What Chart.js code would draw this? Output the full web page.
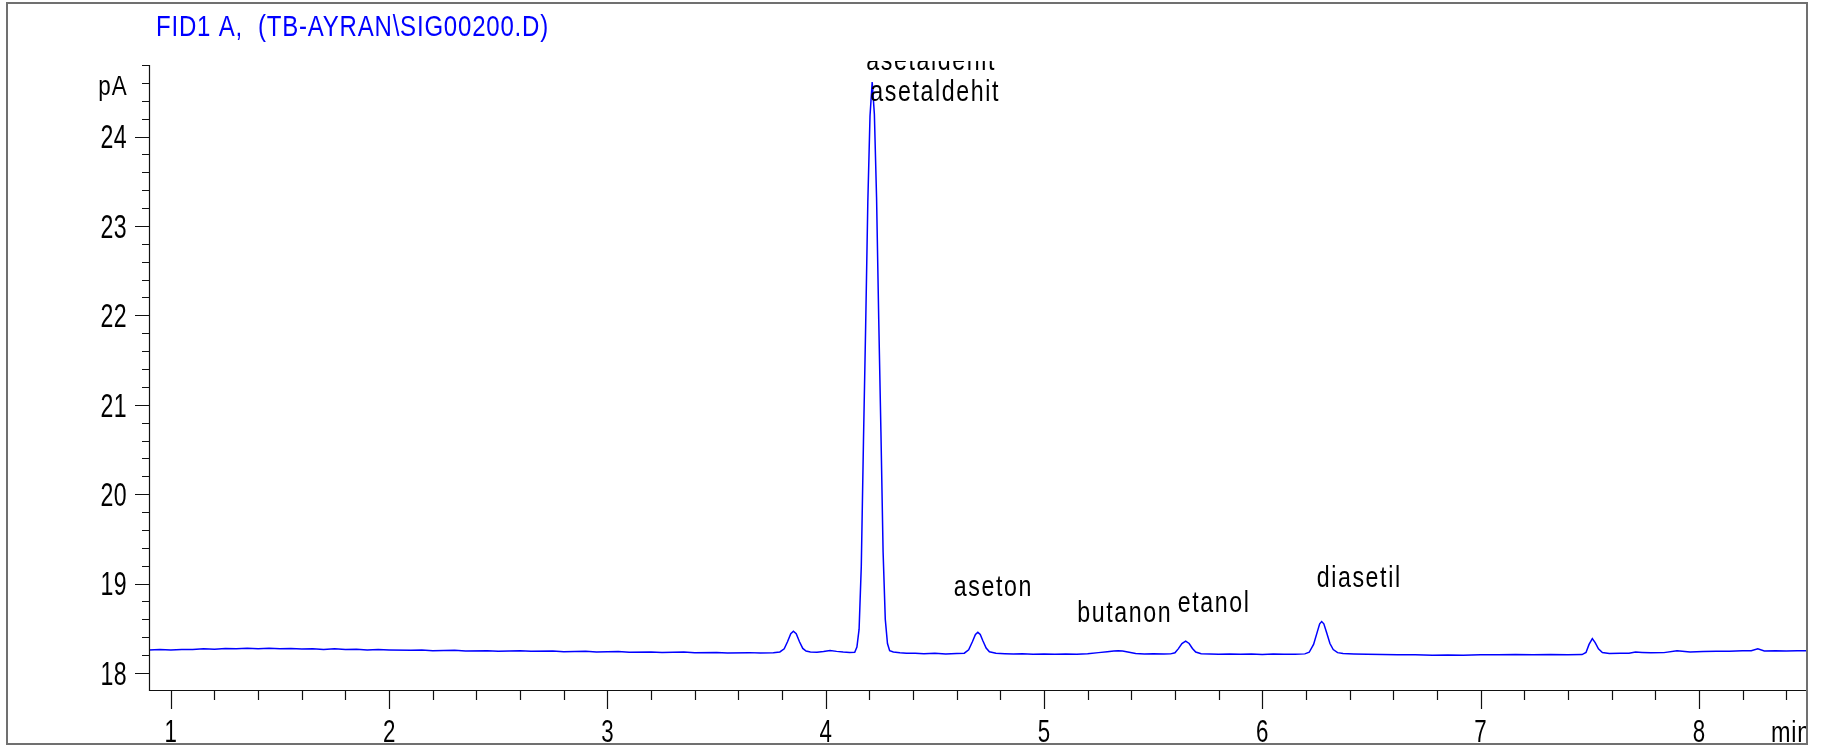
<!DOCTYPE html>
<html>
<head>
<meta charset="utf-8">
<title>FID1 A chromatogram</title>
<script src="https://cdn.jsdelivr.net/npm/chart.js@4.4.1/dist/chart.umd.min.js"></script>
<style>
  html, body { margin: 0; padding: 0; background: #fff; }
  #wrap { width: 1847px; height: 749px; }
</style>
</head>
<body>
<div id="wrap"><canvas id="chromChart" width="1847" height="749"></canvas></div>
<script>
// retention time (min) and FID signal (pA)
const retentionTimes = [
    0.90, 0.95, 1.00, 1.05, 1.10, 1.15, 1.20, 1.25, 1.30, 1.35,
    1.40, 1.45, 1.50, 1.55, 1.60, 1.65, 1.70, 1.75, 1.80, 1.85,
    1.90, 1.95, 2.00, 2.10, 2.15, 2.20, 2.30, 2.35, 2.45, 2.50,
    2.60, 2.65, 2.75, 2.80, 2.90, 2.95, 3.05, 3.10, 3.20, 3.25,
    3.35, 3.40, 3.50, 3.55, 3.65, 3.70, 3.76,
    3.79, 3.81, 3.825, 3.84, 3.852, 3.865, 3.88, 3.895, 3.91, 3.93,
    3.96, 3.99, 4.02, 4.05, 4.08, 4.11,
    4.133, 4.143, 4.153, 4.163, 4.173, 4.183, 4.193, 4.203, 4.213, 4.223,
    4.233, 4.243, 4.253, 4.263, 4.273, 4.283, 4.293, 4.31, 4.34, 4.37,
    4.41, 4.45, 4.50, 4.55, 4.60, 4.635,
    4.655, 4.672, 4.686, 4.697, 4.708, 4.72, 4.735, 4.75, 4.78, 4.82,
    4.86, 4.90, 4.95, 5.00, 5.05, 5.10, 5.15, 5.20,
    5.25, 5.29, 5.32, 5.34, 5.36, 5.39, 5.42, 5.46, 5.50, 5.55, 5.58,
    5.60, 5.615, 5.632, 5.649, 5.665, 5.68, 5.695, 5.72, 5.76, 5.80,
    5.85, 5.90, 5.95, 6.00, 6.05, 6.10, 6.15, 6.195,
    6.215, 6.235, 6.252, 6.263, 6.272, 6.282, 6.295, 6.31, 6.325, 6.345,
    6.37, 6.42, 6.48, 6.55, 6.62, 6.70, 6.78, 6.85, 6.92, 7.00,
    7.08, 7.16, 7.24, 7.32, 7.40, 7.465,
    7.483, 7.497, 7.512, 7.525, 7.54, 7.558, 7.59, 7.64, 7.68, 7.71,
    7.74, 7.78, 7.84, 7.90, 7.96, 8.02, 8.08, 8.14, 8.20, 8.24,
    8.27, 8.30, 8.35, 8.40, 8.45, 8.50
];

const signalPA = [
    18.258, 18.262, 18.256, 18.264, 18.262, 18.270, 18.266, 18.274, 18.270, 18.276,
    18.272, 18.278, 18.270, 18.274, 18.268, 18.272, 18.264, 18.270, 18.262, 18.266,
    18.256, 18.262, 18.258, 18.254, 18.258, 18.250, 18.254, 18.246, 18.250, 18.244,
    18.248, 18.242, 18.246, 18.238, 18.242, 18.236, 18.240, 18.232, 18.236, 18.230,
    18.234, 18.226, 18.230, 18.224, 18.228, 18.224, 18.226,
    18.236, 18.270, 18.350, 18.440, 18.468, 18.440, 18.350, 18.275, 18.245, 18.236,
    18.232, 18.240, 18.252, 18.242, 18.234, 18.230,
    18.232, 18.290, 18.490, 19.190, 20.590, 21.870, 23.270, 24.230, 24.610, 24.250,
    23.320, 21.950, 20.700, 19.350, 18.600, 18.330, 18.250, 18.235, 18.226, 18.222,
    18.220, 18.216, 18.220, 18.214, 18.218, 18.222,
    18.260, 18.350, 18.430, 18.455, 18.430, 18.360, 18.280, 18.238, 18.222, 18.216,
    18.212, 18.216, 18.210, 18.214, 18.210, 18.214, 18.210, 18.216,
    18.228, 18.238, 18.246, 18.250, 18.246, 18.232, 18.218, 18.212, 18.216, 18.212, 18.214,
    18.226, 18.270, 18.330, 18.357, 18.330, 18.275, 18.235, 18.216, 18.212, 18.210,
    18.214, 18.210, 18.212, 18.208, 18.212, 18.209, 18.211, 18.214,
    18.232, 18.320, 18.460, 18.550, 18.575, 18.550, 18.450, 18.330, 18.262, 18.228,
    18.218, 18.214, 18.210, 18.206, 18.204, 18.203, 18.200, 18.202, 18.200, 18.205,
    18.204, 18.207, 18.204, 18.207, 18.205, 18.206,
    18.230, 18.320, 18.385, 18.340, 18.270, 18.230, 18.218, 18.220, 18.222, 18.234,
    18.230, 18.226, 18.228, 18.248, 18.236, 18.240, 18.244, 18.242, 18.248, 18.250,
    18.270, 18.246, 18.250, 18.246, 18.250, 18.248
];

// peak names written by the integrator, with the apex of each peak
const peakNames = ["asetaldehit", "asetaldehit", "aseton", "butanon", "etanol", "diasetil"];
const peakTimes = [4.213, 4.213, 4.697, 5.34, 5.649, 6.272];
const peakHeights = [24.61, 24.61, 18.455, 18.25, 18.357, 18.575];

const xTickLabels = [1, 2, 3, 4, 5, 6, 7, 8];
const yTickLabels = [18, 19, 20, 21, 22, 23, 24];

const FONT = "'Liberation Sans', Arial, sans-serif";

// Arial squeezed sideways, to look like the narrow plotter font
function narrowText(ctx, text, x, y, size, squeeze, spacing, align) {
    ctx.save();
    ctx.font = size + "px " + FONT;
    ctx.letterSpacing = spacing + "px";
    ctx.textAlign = align || "left";
    ctx.textBaseline = "alphabetic";
    ctx.scale(squeeze, 1);
    ctx.fillText(text, x / squeeze, y);
    ctx.restore();
}

// axis frame, tick marks and the text around the plot
const chromDecor = {
    id: "chromDecor",
    afterDatasetsDraw(chart) {
        const { ctx, chartArea: a, scales } = chart;
        const x = scales.x, y = scales.y;

        // peak labels, clipped just above the plot like the printout
        const offsets = [[-6, -12], [-2, 19], [-24, -36], [-41, -29], [-8, -29], [-5, -35]];
        ctx.save();
        ctx.fillStyle = "#000";
        ctx.beginPath();
        ctx.rect(0, 61, chart.width, chart.height);
        ctx.clip();
        peakNames.forEach(function (name, i) {
            const px = x.getPixelForValue(peakTimes[i]) + offsets[i][0];
            const py = y.getPixelForValue(peakHeights[i]) + offsets[i][1];
            narrowText(ctx, name, px, py, 29, 0.8, 2, "left");
        });
        ctx.restore();

        ctx.save();
        ctx.strokeStyle = "#111";
        ctx.lineWidth = 1.2;
        ctx.beginPath();
        ctx.moveTo(a.left + 0.5, a.top);
        ctx.lineTo(a.left + 0.5, a.bottom + 0.5);
        ctx.lineTo(a.right, a.bottom + 0.5);

        // y ticks every 0.2 pA, long ones on whole numbers
        for (let i = 0; i <= 34; i++) {
            const v = 18 + i * 0.2;
            const py = Math.round(y.getPixelForValue(v)) + 0.5;
            const len = (i % 5 === 0) ? 14 : 7;
            ctx.moveTo(a.left - len, py);
            ctx.lineTo(a.left, py);
        }
        // x ticks every 0.2 min
        for (let i = 0; i <= 37; i++) {
            const v = 1 + i * 0.2;
            const px = Math.round(x.getPixelForValue(v)) + 0.5;
            const len = (i % 5 === 0) ? 19 : 10;
            ctx.moveTo(px, a.bottom);
            ctx.lineTo(px, a.bottom + len);
        }
        ctx.stroke();

        // tick labels from the scales' own ticks
        ctx.fillStyle = "#000";
        y.ticks.forEach(function (t) {
            const py = y.getPixelForValue(t.value);
            narrowText(ctx, String(t.value), a.left - 22, py + 11.8, 33, 0.7, 0.5, "right");
        });
        x.ticks.forEach(function (t) {
            const px = x.getPixelForValue(t.value);
            narrowText(ctx, String(t.value), px, 742, 31, 0.72, 0, "center");
        });

        // unit labels
        narrowText(ctx, "pA", a.left - 21, 95, 28, 0.8, 1.5, "right");
        ctx.beginPath();
        ctx.rect(0, 0, a.right - 1, chart.height);
        ctx.clip();
        narrowText(ctx, "min", a.right - 37, 742, 30, 0.78, 1, "left");
        ctx.restore();
    },
    afterDraw(chart) {
        const ctx = chart.ctx;
        ctx.save();
        // title line of the printout
        ctx.fillStyle = "#0000ff";
        narrowText(ctx, "FID1 A,  (TB-AYRAN\\SIG00200.D)", 156, 36, 30, 0.8, 1, "left");

        // page border
        ctx.strokeStyle = "#707070";
        ctx.lineWidth = 2;
        ctx.strokeRect(7, 3, 1800, 741);
        ctx.restore();
    }
};

document.addEventListener("DOMContentLoaded", function () {
    const points = retentionTimes.map(function (t, i) {
        return { x: t, y: signalPA[i] };
    });

    const ctx = document.getElementById("chromChart").getContext("2d");
    new Chart(ctx, {
        type: "line",
        data: {
            datasets: [{
                label: "FID1 A",
                data: points,
                borderColor: "#0000ff",
                borderWidth: 1.5,
                pointRadius: 0,
                tension: 0,
                fill: false
            }]
        },
        options: {
            responsive: false,
            animation: false,
            devicePixelRatio: 1,
            layout: { padding: { top: 65, right: 39, bottom: 0, left: 0 } },
            plugins: {
                legend: { display: false },
                tooltip: { enabled: false },
                title: { display: false }
            },
            scales: {
                x: {
                    type: "linear",
                    min: 0.9,
                    max: 8.5,
                    grid: { display: false, drawTicks: false },
                    border: { display: false },
                    afterBuildTicks: function (scale) {
                        scale.ticks = xTickLabels.map(function (v) { return { value: v }; });
                    },
                    afterFit: function (scale) { scale.height = 59; },
                    ticks: { display: false, autoSkip: false }
                },
                y: {
                    type: "linear",
                    min: 17.81,
                    max: 24.8,
                    grid: { display: false, drawTicks: false },
                    border: { display: false },
                    afterBuildTicks: function (scale) {
                        scale.ticks = yTickLabels.map(function (v) { return { value: v }; });
                    },
                    afterFit: function (scale) { scale.width = 149; },
                    ticks: { display: false, autoSkip: false }
                }
            }
        },
        plugins: [chromDecor]
    });
});
</script>
</body>
</html>
